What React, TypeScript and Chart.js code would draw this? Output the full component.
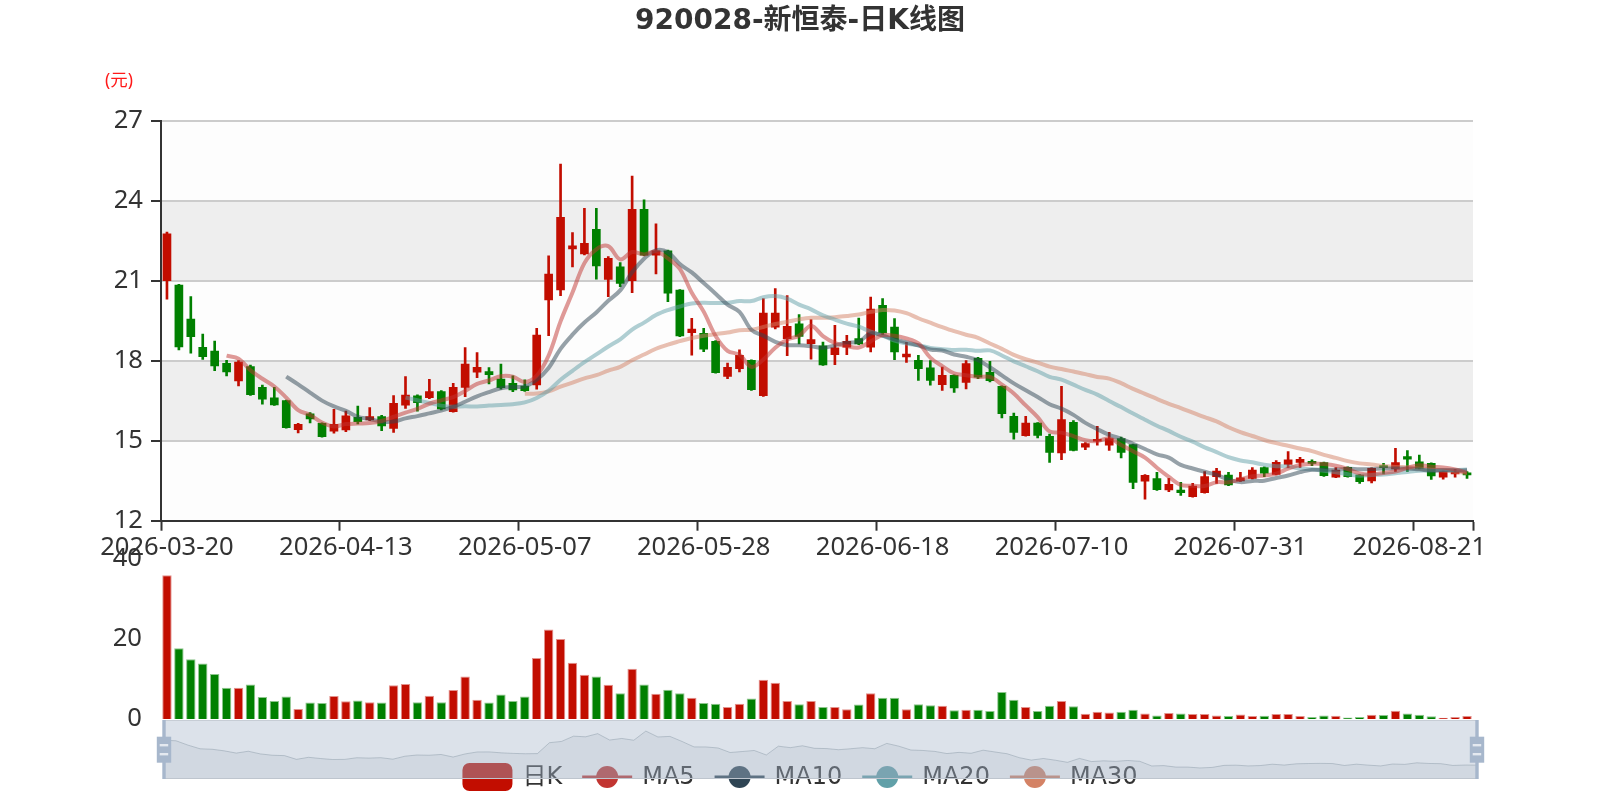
import React, { useEffect, useRef } from 'react';
import { Chart, registerables } from 'chart.js';

Chart.register(...registerables);

// ---------------- data ----------------
const titleText = '920028-新恒泰-日K线图';
const unitText = '(元)';

const dates = [
  '2026-03-20', '2026-03-23', '2026-03-24', '2026-03-25', '2026-03-26', '2026-03-27', '2026-03-30', '2026-03-31',
  '2026-04-01', '2026-04-02', '2026-04-03', '2026-04-07', '2026-04-08', '2026-04-09', '2026-04-10', '2026-04-13',
  '2026-04-14', '2026-04-15', '2026-04-16', '2026-04-17', '2026-04-20', '2026-04-21', '2026-04-22', '2026-04-23',
  '2026-04-24', '2026-04-27', '2026-04-28', '2026-04-29', '2026-04-30', '2026-05-06', '2026-05-07', '2026-05-08',
  '2026-05-11', '2026-05-12', '2026-05-13', '2026-05-14', '2026-05-15', '2026-05-18', '2026-05-19', '2026-05-20',
  '2026-05-21', '2026-05-22', '2026-05-25', '2026-05-26', '2026-05-27', '2026-05-28', '2026-05-29', '2026-06-01',
  '2026-06-02', '2026-06-03', '2026-06-04', '2026-06-05', '2026-06-08', '2026-06-09', '2026-06-10', '2026-06-11',
  '2026-06-12', '2026-06-15', '2026-06-16', '2026-06-17', '2026-06-18', '2026-06-22', '2026-06-23', '2026-06-24',
  '2026-06-25', '2026-06-26', '2026-06-29', '2026-06-30', '2026-07-01', '2026-07-02', '2026-07-03', '2026-07-06',
  '2026-07-07', '2026-07-08', '2026-07-09', '2026-07-10', '2026-07-13', '2026-07-14', '2026-07-15', '2026-07-16',
  '2026-07-17', '2026-07-20', '2026-07-21', '2026-07-22', '2026-07-23', '2026-07-24', '2026-07-27', '2026-07-28',
  '2026-07-29', '2026-07-30', '2026-07-31', '2026-08-03', '2026-08-04', '2026-08-05', '2026-08-06', '2026-08-07',
  '2026-08-10', '2026-08-11', '2026-08-12', '2026-08-13', '2026-08-14', '2026-08-17', '2026-08-18', '2026-08-19',
  '2026-08-20', '2026-08-21', '2026-08-24', '2026-08-25', '2026-08-26', '2026-08-27',
];

const opens = [
  21.00, 20.84, 19.56, 18.50, 18.36, 17.90, 17.24, 17.78, 17.00, 16.61,
  16.50, 15.41, 16.01, 15.65, 15.36, 15.40, 15.88, 15.78, 15.90, 15.46,
  16.33, 16.68, 16.61, 16.84, 16.09, 17.00, 17.57, 17.59, 17.31, 17.15,
  17.05, 17.09, 20.28, 20.65, 22.19, 22.00, 22.93, 21.05, 21.52, 21.00,
  23.68, 21.96, 22.12, 20.65, 19.05, 19.03, 18.73, 17.41, 17.70, 18.01,
  16.69, 19.26, 18.83, 19.38, 18.64, 18.56, 18.23, 18.51, 18.83, 18.51,
  20.08, 19.26, 18.14, 18.01, 17.73, 17.10, 17.45, 17.19, 18.09, 17.56,
  17.04, 15.91, 15.19, 15.66, 15.16, 14.54, 15.69, 14.76, 14.98, 14.83,
  15.08, 14.85, 13.48, 13.58, 13.15, 13.15, 12.90, 13.05, 13.65, 13.71,
  13.49, 13.59, 13.99, 13.74, 14.11, 14.19, 14.23, 14.18, 13.63, 14.00,
  13.71, 13.49, 14.05, 13.94, 14.40, 14.21, 14.15, 13.63, 13.75, 13.72,
];
const closes = [
  22.76, 18.52, 18.90, 18.15, 17.80, 17.58, 17.95, 16.73, 16.56, 16.34,
  15.49, 15.61, 15.82, 15.15, 15.61, 15.93, 15.71, 15.90, 15.55, 16.40,
  16.71, 16.43, 16.84, 16.19, 17.00, 17.87, 17.75, 17.48, 16.99, 16.90,
  16.88, 18.96, 21.25, 23.38, 22.31, 22.40, 21.55, 21.84, 20.90, 23.68,
  21.96, 22.12, 20.53, 18.93, 19.19, 18.43, 17.55, 17.75, 18.20, 16.91,
  19.79, 19.79, 19.29, 18.91, 18.79, 17.84, 18.48, 18.73, 18.63, 19.94,
  19.04, 18.33, 18.25, 17.70, 17.26, 17.45, 16.98, 17.89, 17.38, 17.25,
  16.01, 15.31, 15.66, 15.20, 14.56, 15.79, 14.64, 14.89, 15.04, 15.08,
  14.56, 13.44, 13.70, 13.16, 13.36, 13.05, 13.30, 13.65, 13.86, 13.34,
  13.61, 13.90, 13.78, 14.19, 14.28, 14.30, 14.15, 13.69, 13.90, 13.65,
  13.46, 13.96, 13.99, 14.18, 14.31, 13.96, 13.68, 13.84, 13.80, 13.72,
];
const lows = [
  20.31, 18.40, 18.28, 18.05, 17.63, 17.43, 17.05, 16.70, 16.37, 16.32,
  15.47, 15.29, 15.67, 15.13, 15.28, 15.34, 15.63, 15.75, 15.38, 15.31,
  16.21, 16.11, 16.58, 16.15, 16.07, 16.65, 17.36, 17.13, 16.93, 16.84,
  16.85, 16.93, 18.94, 20.44, 21.52, 21.97, 21.06, 20.40, 20.78, 20.55,
  21.94, 21.25, 20.21, 18.90, 18.21, 18.34, 17.53, 17.33, 17.58, 16.89,
  16.66, 19.19, 18.19, 18.63, 18.06, 17.82, 17.85, 18.23, 18.60, 18.33,
  18.98, 18.04, 17.94, 17.26, 17.08, 16.89, 16.81, 16.94, 17.33, 17.20,
  15.85, 15.06, 15.17, 15.10, 14.19, 14.29, 14.62, 14.66, 14.83, 14.64,
  14.35, 13.20, 12.81, 13.14, 13.09, 12.95, 12.88, 13.03, 13.40, 13.31,
  13.47, 13.57, 13.65, 13.72, 13.99, 13.99, 14.06, 13.66, 13.61, 13.63,
  13.40, 13.42, 13.75, 13.84, 13.84, 13.94, 13.55, 13.56, 13.63, 13.59,
];
const highs = [
  22.82, 20.86, 20.40, 19.00, 18.74, 18.01, 18.00, 17.84, 17.09, 17.00,
  16.52, 15.65, 16.05, 15.67, 16.18, 16.11, 16.30, 16.24, 15.95, 16.69,
  17.40, 16.72, 17.30, 16.88, 17.15, 18.49, 18.30, 17.74, 17.87, 17.43,
  17.28, 19.21, 21.93, 25.37, 22.80, 23.71, 23.71, 21.90, 21.68, 24.92,
  24.03, 23.13, 22.15, 20.67, 19.59, 19.21, 18.75, 17.91, 18.41, 18.03,
  20.33, 20.70, 20.44, 19.73, 19.54, 18.70, 19.33, 18.95, 19.60, 20.39,
  20.33, 19.58, 18.69, 18.20, 18.00, 17.76, 17.47, 18.00, 18.13, 17.98,
  17.06, 16.04, 15.91, 15.68, 15.25, 17.04, 15.75, 14.93, 15.54, 15.31,
  15.14, 14.87, 13.73, 13.81, 13.59, 13.44, 13.40, 13.84, 13.96, 13.81,
  13.81, 13.99, 14.02, 14.25, 14.59, 14.38, 14.28, 14.20, 13.99, 14.02,
  13.74, 13.98, 14.15, 14.71, 14.63, 14.46, 14.17, 13.86, 13.93, 13.84,
];
const volumes = [
  35.8, 17.6, 14.9, 13.8, 11.2, 7.8, 7.8, 8.6, 5.5, 4.5,
  5.6, 2.5, 4.1, 4.0, 5.7, 4.4, 4.6, 4.2, 4.1, 8.4,
  8.7, 4.2, 5.8, 4.2, 7.2, 10.6, 4.8, 4.1, 6.1, 4.5,
  5.6, 15.2, 22.3, 19.9, 14.0, 11.0, 10.6, 8.5, 6.4, 12.5,
  8.6, 6.3, 7.3, 6.4, 5.3, 4.0, 3.8, 3.0, 3.8, 5.1,
  9.8, 9.0, 4.5, 3.7, 4.5, 3.0, 3.0, 2.4, 3.6, 6.4,
  5.3, 5.3, 2.4, 3.7, 3.4, 3.3, 2.2, 2.3, 2.3, 2.0,
  6.7, 4.8, 3.0, 2.0, 3.3, 4.5, 3.2, 1.3, 1.8, 1.6,
  1.8, 2.3, 1.4, 0.85, 1.5, 1.4, 1.25, 1.25, 0.9, 0.75,
  1.15, 0.75, 0.83, 1.25, 1.25, 0.75, 0.5, 0.9, 0.8, 0.4,
  0.5, 1.05, 1.0, 2.05, 1.35, 1.05, 0.66, 0.33, 0.5, 0.75,
];

const priceTicks = [12, 15, 18, 21, 24, 27];
const volumeTicks = [0, 20, 40];
const maDays = [5, 10, 20, 30];
const legendNames = ['日K', 'MA5', 'MA10', 'MA20', 'MA30'];
const labelEvery = 15;

// ---------------- styles ----------------
const UP = '#c20d00';
const DOWN = '#008000';
const UP_EDGE = 'rgba(194,13,0,0.45)';
const DOWN_EDGE = 'rgba(0,128,0,0.45)';
const maColors = ['#c23531', '#2f4554', '#61a0a8', '#d48265'];
const maLineColors = ['rgba(194,53,49,0.5)', 'rgba(47,69,84,0.5)', 'rgba(97,160,168,0.5)', 'rgba(212,130,101,0.5)'];
const FONT = '"Noto Sans", "Noto Sans CJK SC", sans-serif';
const LEGEND_FONT = '"DejaVu Sans", "Noto Sans CJK SC", sans-serif';
const AXIS_FONT_SIZE = 25.6;
Chart.defaults.font.family = FONT;

// ---------------- derived ----------------
function calcMA(n: number): (number | null)[] {
  return closes.map((_, i) => {
    if (i < n) return null;
    let s = 0;
    for (let j = 0; j < n; j++) s += closes[i - j];
    return +(s / n).toFixed(3);
  });
}

const candleColors = opens.map((o, i) => {
  const c = closes[i];
  if (c > o) return UP;
  if (c < o) return DOWN;
  return i > 0 && c < closes[i - 1] ? DOWN : UP;
});
const volColors = opens.map((o, i) => (closes[i] >= o ? UP : DOWN));
const volEdges = opens.map((o, i) => (closes[i] >= o ? UP_EDGE : DOWN_EDGE));

// page geometry
const GRID_LEFT = 161;
const GRID_RIGHT = 1473;
const PRICE_TOP = 120.7;
const PRICE_BOTTOM = 520.7;
const PRICE_H = 560;
const VOL_TOP_PAGE = 540;
const VOL_H = 260;
const VOL_AREA_TOP = 558.3;
const VOL_AREA_BOTTOM = 719;
const SLIDER_TOP_PAGE = 700;
const SLIDER_H = 100;
const SL_LEFT = 164;
const SL_RIGHT = 1477;
const SL_TOP = 720;
const SL_BOTTOM = 779;

const splitAreaPlugin = {
  id: 'splitArea',
  beforeDraw(chart: any) {
    const { ctx, chartArea } = chart;
    const y = chart.scales.y;
    ctx.save();
    for (let k = 0; k < priceTicks.length - 1; k++) {
      const y1 = y.getPixelForValue(priceTicks[k]);
      const y2 = y.getPixelForValue(priceTicks[k + 1]);
      ctx.fillStyle = k % 2 === 0 ? 'rgba(250,250,250,0.3)' : 'rgba(200,200,200,0.3)';
      ctx.fillRect(chartArea.left, y2, chartArea.right - chartArea.left, y1 - y2);
    }
    ctx.restore();
  },
  afterDraw(chart: any) {
    const ctx = chart.ctx;
    ctx.save();
    ctx.fillStyle = '#333';
    ctx.textAlign = 'center';
    ctx.textBaseline = 'middle';
    ctx.font = 'bold 28px "DejaVu Sans", "Noto Sans CJK SC", sans-serif';
    ctx.fillText(titleText, 800, 22);
    ctx.fillStyle = '#ff1a1a';
    ctx.font = '17.5px ' + FONT;
    ctx.fillText(unitText, 119, 81);
    ctx.restore();
  },
};

const legendPlugin = {
  id: 'legendDraw',
  afterDraw(chart: any) {
    const ctx = chart.ctx;
    ctx.save();
    ctx.font = '24px ' + LEGEND_FONT;
    const iconW = 50;
    const textGap = 10;
    const itemGap = 20;
    const widths = legendNames.map((n) => ctx.measureText(n).width);
    const total = widths.reduce((s, w) => s + iconW + textGap + w, 0) + itemGap * (legendNames.length - 1);
    let x = 800 - total / 2;
    const cy = 777 - VOL_TOP_PAGE;
    legendNames.forEach((name, k) => {
      if (k === 0) {
        ctx.fillStyle = UP;
        ctx.beginPath();
        (ctx as any).roundRect(x, cy - 14, iconW, 28, 7);
        ctx.fill();
      } else {
        const col = maColors[k - 1];
        ctx.strokeStyle = col;
        ctx.lineWidth = 3;
        ctx.beginPath();
        ctx.moveTo(x, cy);
        ctx.lineTo(x + iconW, cy);
        ctx.stroke();
        ctx.fillStyle = col;
        ctx.beginPath();
        ctx.arc(x + iconW / 2, cy, 11, 0, Math.PI * 2);
        ctx.fill();
      }
      ctx.fillStyle = '#333';
      ctx.textAlign = 'left';
      ctx.textBaseline = 'middle';
      ctx.fillText(name, x + iconW + textGap, cy + 1);
      x += iconW + textGap + widths[k] + itemGap;
    });
    ctx.restore();
  },
};

const sliderPlugin = {
  id: 'sliderDraw',
  beforeDatasetsDraw(chart: any) {
    const { ctx, chartArea } = chart;
    ctx.save();
    ctx.strokeStyle = '#ddd';
    ctx.lineWidth = 1;
    ctx.strokeRect(chartArea.left + 0.5, chartArea.top + 0.5, chartArea.right - chartArea.left - 1, chartArea.bottom - chartArea.top - 1);
    ctx.restore();
  },
  afterDatasetsDraw(chart: any) {
    const { ctx, chartArea } = chart;
    const top = chartArea.top;
    const bottom = chartArea.bottom;
    ctx.save();
    ctx.fillStyle = 'rgba(167,183,203,0.4)';
    ctx.fillRect(chartArea.left, top, chartArea.right - chartArea.left, bottom - top);
    const drawHandle = (cx: number) => {
      ctx.fillStyle = '#a7b7cc';
      ctx.fillRect(cx - 1.7, top, 3.4, bottom - top);
      const ry = top + 16.7;
      ctx.fillRect(cx - 7.2, ry, 14.4, 26);
      ctx.fillStyle = '#e4e9f0';
      ctx.fillRect(cx - 4.3, top + 24, 8.5, 2.4);
      ctx.fillRect(cx - 4.3, top + 33, 8.5, 2.4);
    };
    drawHandle(chartArea.left);
    drawHandle(chartArea.right);
    ctx.restore();
  },
};

export default function App() {
  const priceRef = useRef<HTMLCanvasElement>(null);
  const volRef = useRef<HTMLCanvasElement>(null);
  const sliderRef = useRef<HTMLCanvasElement>(null);

  useEffect(() => {
    const priceChart = new Chart(priceRef.current as HTMLCanvasElement, {
      type: 'bar',
      data: {
        labels: dates,
        datasets: [
          ...maDays.map((n, k) => ({
            type: 'line' as const,
            label: 'MA' + n,
            data: calcMA(n),
            borderColor: maLineColors[k],
            borderWidth: 4,
            pointRadius: 0,
            tension: 0.35,
            fill: false,
            order: 0,
          })),
          {
            type: 'bar' as const,
            label: 'wick',
            data: dates.map((_, i) => [lows[i], highs[i]]),
            backgroundColor: candleColors,
            barThickness: 2,
            grouped: false,
            order: 2,
          },
          {
            type: 'bar' as const,
            label: '日K',
            data: dates.map((_, i) => [opens[i], closes[i]]),
            backgroundColor: candleColors,
            barThickness: 8,
            minBarLength: 2,
            grouped: false,
            order: 1,
          },
        ] as any,
      },
      options: {
        responsive: false,
        animation: false,
        events: [],
        layout: { padding: { left: 0, right: 1600 - GRID_RIGHT, top: PRICE_TOP, bottom: 0 } },
        plugins: { legend: { display: false }, tooltip: { enabled: false }, title: { display: false } },
        scales: {
          x: {
            type: 'category',
            offset: true,
            grid: {
              display: true,
              drawOnChartArea: false,
              drawTicks: true,
              tickLength: 10,
              tickWidth: 2,
              offset: true,
              tickColor: (c: any) => (c.index === undefined || c.index % labelEvery === 0 ? '#333' : 'rgba(0,0,0,0)'),
            },
            border: { display: true, color: '#333', width: 2 },
            ticks: {
              autoSkip: false,
              maxRotation: 0,
              minRotation: 0,
              color: '#333',
              font: { size: AXIS_FONT_SIZE, family: FONT },
              padding: 2,
              callback: (_v: any, i: number) => (i % labelEvery === 0 ? dates[i] : ''),
            },
            afterFit: (s: any) => {
              s.height = PRICE_H - PRICE_BOTTOM;
              s.paddingLeft = 0;
              s.paddingRight = 0;
            },
          },
          y: {
            min: priceTicks[0],
            max: priceTicks[priceTicks.length - 1],
            afterBuildTicks: (s: any) => {
              s.ticks = priceTicks.map((v) => ({ value: v }));
            },
            ticks: { color: '#333', font: { size: AXIS_FONT_SIZE, family: FONT }, padding: 8 },
            grid: { color: '#ccc', lineWidth: 2, drawTicks: true, tickLength: 10, tickWidth: 2, tickColor: '#333' },
            border: { display: true, color: '#333', width: 2 },
            afterFit: (s: any) => {
              s.width = GRID_LEFT;
              s.paddingTop = 0;
              s.paddingBottom = 0;
            },
          },
        },
      } as any,
      plugins: [splitAreaPlugin],
    });

    const volChart = new Chart(volRef.current as HTMLCanvasElement, {
      type: 'bar',
      data: {
        labels: dates,
        datasets: [
          {
            label: 'volume',
            data: volumes,
            backgroundColor: volColors,
            borderColor: volEdges,
            borderWidth: 1,
            barPercentage: 0.79,
            categoryPercentage: 1,
          },
        ],
      },
      options: {
        responsive: false,
        animation: false,
        events: [],
        layout: {
          padding: {
            left: 0,
            right: 1600 - GRID_RIGHT,
            top: VOL_AREA_TOP - VOL_TOP_PAGE,
            bottom: VOL_TOP_PAGE + VOL_H - VOL_AREA_BOTTOM,
          },
        },
        plugins: { legend: { display: false }, tooltip: { enabled: false } },
        scales: {
          x: { type: 'category', offset: true, display: false },
          y: {
            min: volumeTicks[0],
            max: volumeTicks[volumeTicks.length - 1],
            afterBuildTicks: (s: any) => {
              s.ticks = volumeTicks.map((v) => ({ value: v }));
            },
            ticks: { color: '#333', font: { size: AXIS_FONT_SIZE, family: FONT }, padding: 19 },
            grid: { display: false, drawTicks: false },
            border: { display: false },
            afterFit: (s: any) => {
              s.width = GRID_LEFT;
              s.paddingTop = 0;
              s.paddingBottom = 0;
            },
          },
        },
      } as any,
      plugins: [legendPlugin],
    });

    const minO = Math.min(...opens);
    const maxO = Math.max(...opens);
    const pad = (maxO - minO) * 0.3;
    const sliderChart = new Chart(sliderRef.current as HTMLCanvasElement, {
      type: 'line',
      data: {
        labels: dates,
        datasets: [
          {
            label: 'shadow',
            data: opens,
            borderColor: 'rgba(47,69,84,0.3)',
            borderWidth: 1,
            backgroundColor: 'rgba(47,69,84,0.09)',
            fill: 'start',
            pointRadius: 0,
            tension: 0,
          },
        ],
      },
      options: {
        responsive: false,
        animation: false,
        events: [],
        layout: {
          padding: {
            left: SL_LEFT,
            right: 1600 - SL_RIGHT,
            top: SL_TOP - SLIDER_TOP_PAGE,
            bottom: SLIDER_TOP_PAGE + SLIDER_H - SL_BOTTOM,
          },
        },
        plugins: { legend: { display: false }, tooltip: { enabled: false } },
        scales: {
          x: { type: 'category', offset: false, display: false },
          y: { display: false, min: minO - pad, max: maxO + pad },
        },
      } as any,
      plugins: [sliderPlugin],
    });

    return () => {
      priceChart.destroy();
      volChart.destroy();
      sliderChart.destroy();
    };
  }, []);

  return (
    <div style={{ position: 'fixed', left: 0, top: 0, width: 1600, height: 800, background: '#fff', overflow: 'hidden' }}>
      <canvas ref={priceRef} width={1600} height={PRICE_H} style={{ position: 'absolute', left: 0, top: 0, width: 1600, height: PRICE_H }} />
      <canvas ref={volRef} width={1600} height={VOL_H} style={{ position: 'absolute', left: 0, top: VOL_TOP_PAGE, width: 1600, height: VOL_H }} />
      <canvas ref={sliderRef} width={1600} height={SLIDER_H} style={{ position: 'absolute', left: 0, top: SLIDER_TOP_PAGE, width: 1600, height: SLIDER_H }} />
    </div>
  );
}
